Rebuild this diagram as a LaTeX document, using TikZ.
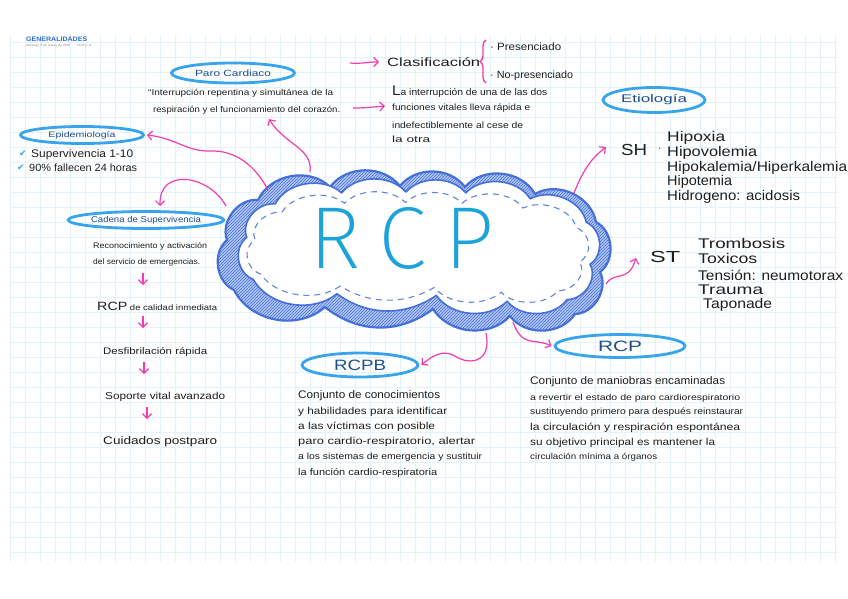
\documentclass[tikz,border=0pt]{standalone}
\usepackage{fontspec}
\usepackage{graphicx}
\setmainfont{Liberation Sans}
\newfontfamily\symfont{DejaVu Sans}
\IfFontExistsTF{Fira Sans ExtraLight}{\newfontfamily\thinfont{Fira Sans ExtraLight}}{\IfFontExistsTF{Fira Sans Light}{\newfontfamily\thinfont{Fira Sans Light}}{\newfontfamily\thinfont{Liberation Sans}}}
\usetikzlibrary{shapes.geometric,patterns,decorations.pathreplacing,arrows.meta}
\definecolor{gridc}{HTML}{E4F2FB}
\definecolor{pinkc}{HTML}{F23DB0}
\definecolor{ellc}{HTML}{38A4EC}
\definecolor{lblc}{HTML}{1E4E8E}
\definecolor{cloudc}{HTML}{4470D8}
\definecolor{cloudf}{HTML}{B3C6F3}
\definecolor{rcpc}{HTML}{1BA3DA}
\definecolor{txtc}{HTML}{1E1E1E}
\definecolor{hdrc}{HTML}{2B6FD6}
\newlength\fitlen
\newcommand\fitline[3]{{\fontsize{#1}{#1}\selectfont\settowidth\fitlen{#3}\pgfmathsetmacro\fitr{#2/\fitlen}\scalebox{\fitr}[1]{#3}}}
\newcommand\cloudpath{(258,-200) to[bend left=55] (330,-187) to[bend left=52] (400,-186) to[bend left=52] (465,-187) to[bend left=55] (535,-194) to[bend left=55] (596,-222) to[bend left=58] (600,-272) to[bend left=58] (575,-314) to[bend left=55] (510,-316) to[bend left=52] (433,-309) to[bend left=38] (325,-307) to[bend left=52] (234,-290) to[bend left=58] (227,-240) to[bend left=58] (258,-200) -- cycle}
\tikzset{
  txt/.style={anchor=west, inner sep=0pt, text=txtc},
  bubble/.style={ellipse, draw=ellc, line width=2.8pt, text=lblc, inner sep=0pt},
  pinkarr/.style={draw=pinkc, line width=1.2pt, -{Straight Barb[length=4.5pt,width=9pt]}}
}
\begin{document}
\begin{tikzpicture}[x=1pt,y=-1pt]
\useasboundingbox (0,0) rectangle (848,599);
\fill[white] (0,0) rectangle (848,599);
\foreach \x in {10,25,...,835} \draw[gridc, line width=0.9pt] (\x,35) -- (\x,562);
\foreach \y in {42,57,...,552} \draw[gridc, line width=0.9pt] (10,\y) -- (838,\y);

% header
\node[txt, text=hdrc, font=\bfseries] (hdr) at (26,39) {\fitline{6.5}{61}{GENERALIDADES}};
\node[txt, text=gray] (date) at (26,46) {\fitline{3}{44}{domingo, 5 de marzo de 2023}};
\node[txt, text=gray] (time) at (77,46) {\fitline{3}{15}{10:45 p. m.}};

% cloud
\begin{scope}[y=1pt]
\fill[cloudf] \cloudpath;
\fill[pattern=north east lines, pattern color=cloudc] \cloudpath;
\draw[cloudc, line width=2.2pt, line join=round] \cloudpath;
\begin{scope}[shift={(417,-245)}, xscale=0.92, yscale=0.84, shift={(-412,249)}]
\filldraw[fill=white, draw=cloudc, line width=1.6pt, line join=round] \cloudpath;
\end{scope}
\begin{scope}[shift={(416,-246)}, xscale=0.87, yscale=0.69, shift={(-412,249)}]
\draw[cloudc!85, dash pattern=on 6pt off 5pt, line width=1.1pt] \cloudpath;
\end{scope}
\end{scope}
\node[text=rcpc, inner sep=0pt] (rcpbig) at (402,238) {\thinfont\fitline{88}{185}{R\hspace{18pt}C\hspace{18pt}P}};

% Paro cardiaco
\node[bubble, minimum width=123pt, minimum height=20pt] (paro) at (233,73) {\fitline{9}{76}{Paro Cardiaco}};
\node[txt] (paro1) at (148,93) {\fitline{8.5}{185}{“Interrupción repentina y simultánea de la}};
\node[txt] (paro2) at (153,110) {\fitline{8.5}{187}{respiración y el funcionamiento del corazón.}};

% Clasificacion
\coordinate (a1s) at (350,63);
\node[txt] (clas) at (387,62) {\fitline{12}{93}{Clasificación}};
\draw[pinkarr] (a1s) to[out=-5,in=180] ([xshift=-8pt]clas.west);
\coordinate (brB) at (486,83);
\coordinate (brT) at (486,40);
\draw[pinkc, line width=1.4pt, decorate, decoration={brace, amplitude=6pt}] (brB) -- (brT);
\node[txt] (pres) at (490,47) {\fitline{10.5}{71}{· Presenciado}};
\node[txt] (nopres) at (490,76) {\fitline{10.5}{83}{· No-presenciado}};

\coordinate (a2s) at (353,108);
\node[txt] (la1) at (392,92) {\fitline{9.5}{155}{{\fontsize{14}{14}\selectfont L}a interrupción de una de las dos}};
\node[txt] (la2) at (392,108) {\fitline{9}{138}{funciones vitales lleva rápida e}};
\node[txt] (la3) at (392,125) {\fitline{9}{131}{indefectiblemente al cese de}};
\node[txt] (la4) at (392,139) {\fitline{9}{38}{la otra}};
\draw[pinkarr] (a2s) to[out=0,in=185] ([xshift=-7pt,yshift=2pt]la2.west);

% Epidemiologia
\node[bubble, minimum width=123pt, minimum height=17pt] (epi) at (82,135) {\fitline{8}{67}{Epidemiología}};
\node[txt, text=ellc] (ck1) at (19,154) {\symfont\fontsize{9}{9}\selectfont ✔};
\node[txt, text=ellc] (ck2) at (17,168) {\symfont\fontsize{9}{9}\selectfont ✔};
\node[txt] (sv1) at (31,155) {\fitline{11}{102}{Supervivencia 1-10}};
\node[txt] (sv2) at (29,168) {\fitline{10.5}{108}{90\% fallecen 24 horas}};

% Cadena de supervivencia
\node[bubble, minimum width=128pt, minimum height=17pt] (cad) at (146,220) {\fitline{8.5}{110}{Cadena de Supervivencia}};
\node[txt] (cd1) at (93,246) {\fitline{8}{114}{Reconocimiento y activación}};
\node[txt] (cd2) at (93,262) {\fitline{8}{107}{del servicio de emergencias.}};
\node[txt] (cd3) at (97,306) {\fitline{8}{120}{{\fontsize{12}{12}\selectfont RCP} de calidad inmediata}};
\node[txt] (cd4) at (103,352) {\fitline{9.5}{104}{Desfibrilación rápida}};
\node[txt] (cd5) at (105,397) {\fitline{10}{120}{Soporte vital avanzado}};
\node[txt] (cd6) at (103,442) {\fitline{11}{114}{Cuidados postparo}};
\foreach \n/\xx/\ya/\yb in {1/143/273/285, 2/143/316/328, 3/144/362/374, 4/147/407/419} {
  \coordinate (ch\n a) at (\xx,\ya);
  \coordinate (ch\n b) at (\xx,\yb);
  \draw[pinkarr] (ch\n a) -- (ch\n b);
}

% Etiologia
\node[bubble, minimum width=102pt, minimum height=25pt] (etio) at (654,100) {\fitline{11}{66}{Etiología}};
\node[txt] (sh) at (621,150) {\fitline{16}{26}{SH}};
\node[txt] (shdot) at (658,150) {·};
\node[txt] (h1) at (667,138) {\fitline{14}{58}{Hipoxia}};
\node[txt] (h2) at (667,153) {\fitline{14}{90}{Hipovolemia}};
\node[txt] (h3) at (667,168) {\fitline{14}{180}{Hipokalemia/Hiperkalemia}};
\node[txt] (h4) at (667,182) {\fitline{14}{65}{Hipotemia}};
\node[txt] (h5) at (667,197) {\fitline{14}{133}{Hidrogeno: acidosis}};

\node[txt] (st) at (650,257) {\fitline{16}{30}{ST}};
\node[txt] (t1) at (698,243) {\fitline{14}{87}{Trombosis}};
\node[txt] (t2) at (698,258) {\fitline{14}{59}{Toxicos}};
\node[txt] (t3) at (698,275) {\fitline{14}{145}{Tensión: neumotorax}};
\node[txt] (t4) at (698,290) {\fitline{14}{65}{Trauma}};
\node[txt] (t5) at (703,305) {\fitline{14}{69}{Taponade}};

% RCPB
\node[bubble, minimum width=116pt, minimum height=24pt] (rcpb) at (360,365) {\fitline{15}{52}{RCPB}};
\node[txt] (b1) at (298,396) {\fitline{11}{142}{Conjunto de conocimientos}};
\node[txt] (b2) at (298,412) {\fitline{10}{149}{y habilidades para identificar}};
\node[txt] (b3) at (298,427) {\fitline{10}{137}{a las víctimas con posible}};
\node[txt] (b4) at (298,442) {\fitline{10}{177}{paro cardio-respiratorio, alertar}};
\node[txt] (b5) at (298,457) {\fitline{9}{184}{a los sistemas de emergencia y sustituir}};
\node[txt] (b6) at (298,473) {\fitline{9.5}{139}{la función cardio-respiratoria}};

% RCP
\node[bubble, minimum width=130pt, minimum height=23pt] (rcp) at (620,346) {\fitline{15}{44}{RCP}};
\node[txt] (r1) at (530,382) {\fitline{11}{195}{Conjunto de maniobras encaminadas}};
\node[txt] (r2) at (530,398) {\fitline{8.5}{210}{a revertir el estado de paro cardiorespiratorio}};
\node[txt] (r3) at (530,412) {\fitline{9}{213}{sustituyendo primero para después reinstaurar}};
\node[txt] (r4) at (530,428) {\fitline{10}{210}{la circulación y respiración espontánea}};
\node[txt] (r5) at (530,443) {\fitline{10}{185}{su objetivo principal es mantener la}};
\node[txt] (r6) at (530,457) {\fitline{8.5}{127}{circulación mínima a órganos}};

% connectors from cloud
\coordinate (cc1) at (310,172);
\coordinate (pc1) at (269,119);
\draw[pinkarr] (cc1) .. controls (313,148) and (285,145) .. (pc1);
\coordinate (cc2) at (268,190);
\draw[pinkarr] (cc2) .. controls (255,165) and (235,150) .. (210,151) .. controls (188,152) and (175,138) .. ([xshift=2pt]epi.east);
\coordinate (cc3) at (226,206);
\coordinate (pc3) at (160,206);
\draw[pinkarr] (cc3) .. controls (215,185) and (185,172) .. (168,184) .. controls (161,190) and (160,196) .. (pc3);
\coordinate (cc4) at (574,193);
\coordinate (pc4) at (606,147);
\draw[pinkarr] (cc4) .. controls (584,168) and (592,158) .. (pc4);
\coordinate (cc5) at (606,284);
\coordinate (pc5) at (636,258);
\draw[pinkarr] (cc5) .. controls (615,270) and (628,284) .. (pc5);
\coordinate (cc6) at (513,322);
\draw[pinkarr] (cc6) .. controls (522,348) and (535,338) .. ([xshift=-2pt]rcp.west);
\coordinate (cc7) at (486,333);
\draw[pinkarr] (cc7) .. controls (492,362) and (470,366) .. (455,356) .. controls (443,349) and (432,356) .. ([xshift=2pt]rcpb.east);
\end{tikzpicture}
\end{document}
